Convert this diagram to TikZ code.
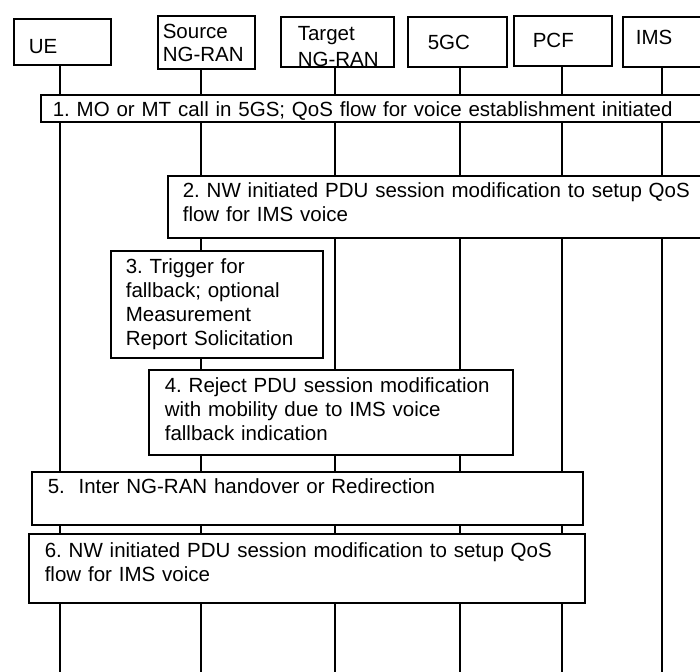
\documentclass[tikz,border=0pt]{standalone}
\usepackage{fontspec}
\setmainfont{Liberation Sans}
\frenchspacing
\tikzset{
  actor/.style={draw, line width=1.6pt, anchor=north west, align=left,
    inner ysep=0pt, font=\fontsize{20.5}{23}\selectfont},
  stepbox/.style={draw, fill=white, line width=1.6pt, anchor=north west,
    align=left, inner ysep=0pt, font=\fontsize{20.5}{24}\selectfont},
  life/.style={line width=1.6pt}
}
\begin{document}
\begin{tikzpicture}[x=1pt, y=-1pt]
        \useasboundingbox (0,0) rectangle (700,671);
        \clip (0,0) rectangle (700,671);

        % network elements
        \node[actor, inner xsep=15pt, text width=67pt, text height=35pt, text depth=11pt] (ue) at (13,18) {UE};
        \node[actor, inner xsep=5pt, text width=87pt, text height=23pt, text depth=30pt] (src) at (157,15) {Source\\\mbox{NG-RAN}};
        \node[actor, inner xsep=17pt, text width=79pt, text height=24pt, text depth=26pt] (tgt) at (280,16) {Target\\[3pt]\mbox{NG-RAN}};
        \node[actor, inner xsep=20pt, text width=59pt, text height=33pt, text depth=17pt] (cn) at (407,16) {5GC};
        \node[actor, inner xsep=19pt, text width=60pt, text height=32pt, text depth=18pt] (pcf) at (513,15) {PCF};
        \node[actor, inner xsep=13pt, text width=74pt, text height=28pt, text depth=22pt] (ims) at (622,16) {IMS};

        % lifelines
        \coordinate (ueEnd) at (60,675);
        \coordinate (srcEnd) at (201,675);
        \coordinate (tgtEnd) at (335,675);
        \coordinate (cnEnd) at (460,675);
        \coordinate (pcfEnd) at (562,675);
        \coordinate (imsEnd) at (662,675);
        \draw[life] (ue.south -| ueEnd) -- (ueEnd);
        \draw[life] (src.south -| srcEnd) -- (srcEnd);
        \draw[life] (tgt.south -| tgtEnd) -- (tgtEnd);
        \draw[life] (cn.south -| cnEnd) -- (cnEnd);
        \draw[life] (pcf.south -| pcfEnd) -- (pcfEnd);
        \draw[life] (ims.south -| imsEnd) -- (imsEnd);

        % steps
        \node[stepbox, inner xsep=12pt, text width=676pt, text height=22pt, text depth=5pt] (s1) at (40,94)
            {1. MO or MT call in 5GS; QoS flow for voice establishment initiated};
        \node[stepbox, inner xsep=15pt, text width=543pt, text height=22pt, text depth=40pt] (s2) at (167,175)
            {2. NW initiated PDU session modification to setup QoS\\flow for IMS voice};
        \node[stepbox, inner xsep=15pt, text width=182pt, text height=23pt, text depth=84pt] (s3) at (110,250)
            {3. Trigger for\\fallback; optional\\Measurement\\Report Solicitation};
        \node[stepbox, inner xsep=16pt, text width=332pt, text height=23pt, text depth=62pt] (s4) at (148,369)
            {4. Reject PDU session modification\\with mobility due to IMS voice\\fallback indication};
        \node[stepbox, inner xsep=16pt, text width=519pt, text height=22pt, text depth=31pt] (s5) at (31,471)
            {5.\ \ Inter NG-RAN handover or Redirection};
        \node[stepbox, inner xsep=16pt, text width=524pt, text height=24pt, text depth=45pt] (s6) at (28,533)
            {6. NW initiated PDU session modification to setup QoS\\flow for IMS voice};
\end{tikzpicture}
\end{document}
